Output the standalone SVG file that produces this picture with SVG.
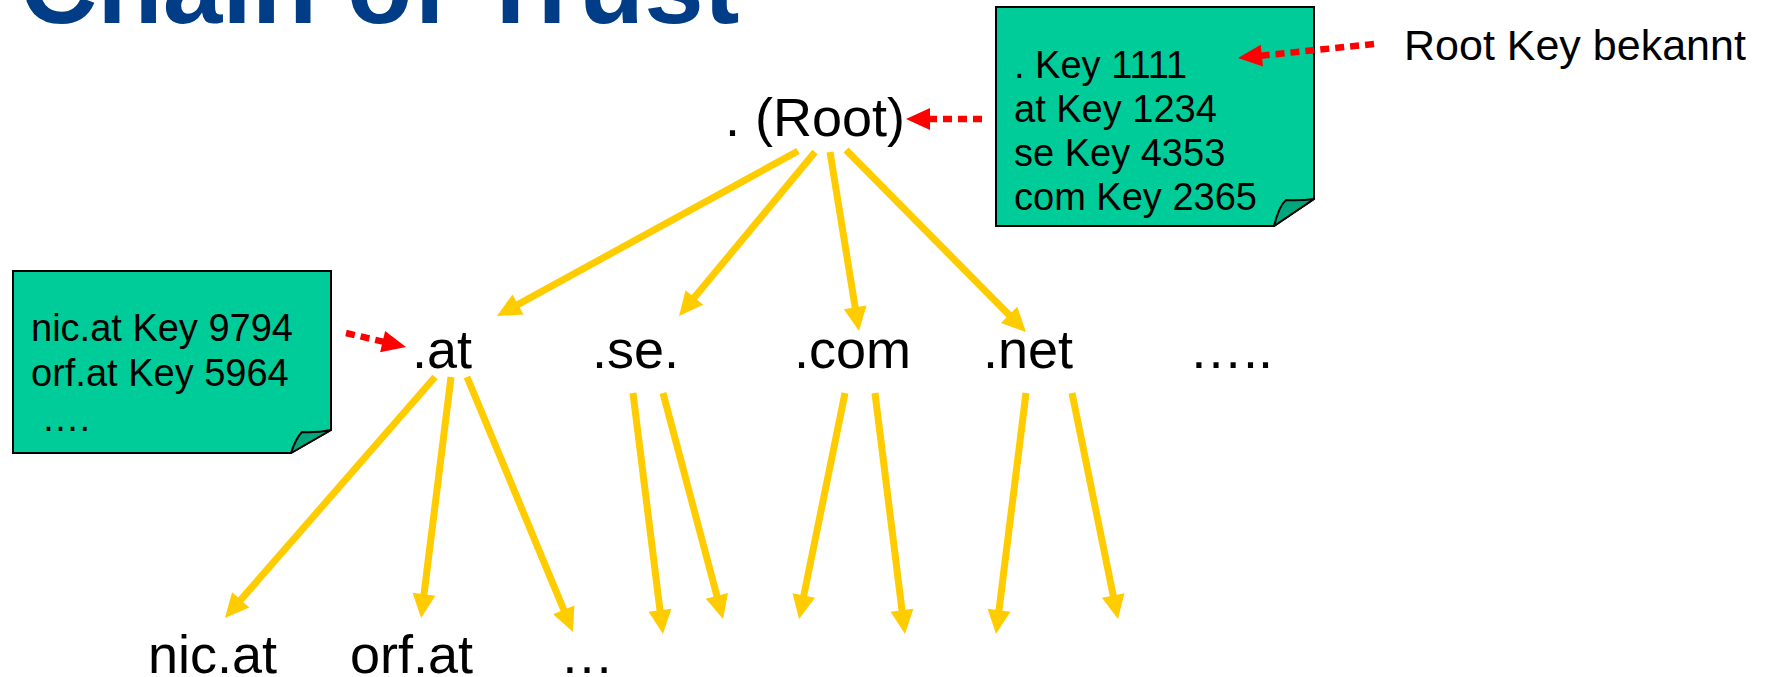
<svg xmlns="http://www.w3.org/2000/svg" width="1767" height="677" viewBox="0 0 1767 677">
<defs>
<style>
text{font-family:"Liberation Sans",Arial,sans-serif;fill:#000}
.lbl{font-size:54px}
.nt{font-size:38px}
.note{fill:#00CC99;stroke:#000;stroke-width:2;stroke-linejoin:miter}
.flap{fill:#00A67C;stroke:#000;stroke-width:2;stroke-linejoin:round}
.y{stroke:#FFCC00;stroke-width:7;fill:none;marker-end:url(#ya)}
.r{stroke:#FF0000;stroke-width:6.5;stroke-dasharray:9 6;fill:none;marker-end:url(#ra)}
</style>
<marker id="ya" markerUnits="userSpaceOnUse" viewBox="0 0 24 23" markerWidth="24" markerHeight="23" refX="4" refY="11.5" orient="auto" overflow="visible"><path d="M0,0 L24,11.5 L0,23 z" fill="#FFCC00"/></marker>
<marker id="ra" markerUnits="userSpaceOnUse" viewBox="0 0 24 22" markerWidth="24" markerHeight="22" refX="4" refY="11" orient="auto" overflow="visible"><path d="M0,0 L24,11 L0,22 z" fill="#FF0000"/></marker>
</defs>
<rect width="1767" height="677" fill="#fff"/>
<g id="title"><text x="20" y="23" font-size="107" font-weight="bold" style="fill:#003D86">Chain of Trust</text></g>

<g id="root"><text class="lbl" x="725" y="136">. (Root)</text></g>
<g id="at"><text class="lbl" x="412" y="368">.at</text></g>
<g id="se"><text class="lbl" x="592" y="368">.se.</text></g>
<g id="com"><text class="lbl" x="794" y="368">.com</text></g>
<g id="net"><text class="lbl" x="983" y="368">.net</text></g>
<g id="more-tld"><text class="lbl" x="1189" y="368">…..</text></g>
<g id="nic-at"><text class="lbl" x="148" y="673">nic.at</text></g>
<g id="orf-at"><text class="lbl" x="350" y="673">orf.at</text></g>
<g id="more-at"><text class="lbl" x="560" y="673">…</text></g>

<g id="root-note">
<path class="note" d="M996,7 H1314 V199 L1274,226 H996 Z"/>
<path class="flap" d="M1274,226 Q1279,206 1286,200 Q1300,201 1314,199 Z"/>
<text class="nt" x="1014" y="78">. Key 1111</text>
<text class="nt" x="1014" y="122">at Key 1234</text>
<text class="nt" x="1014" y="166">se Key 4353</text>
<text class="nt" x="1014" y="210">com Key 2365</text>
</g>

<g id="at-note">
<path class="note" d="M13,271 H331 V430 L291,453 H13 Z"/>
<path class="flap" d="M291,453 Q296,438 302,432 Q316,433 331,430 Z"/>
<text class="nt" x="31" y="341">nic.at Key 9794</text>
<text class="nt" x="31" y="386">orf.at Key 5964</text>
<text class="nt" x="31" y="431" xml:space="preserve"> ….</text>
</g>

<g id="root-key-label"><text x="1404" y="60" font-size="43">Root Key bekannt</text></g>

<g id="connectors">
<line class="y" x1="798" y1="151" x2="514.5" y2="306.4"/>
<line class="y" x1="815" y1="152" x2="691.8" y2="300.6"/>
<line class="y" x1="830" y1="152" x2="855.8" y2="311.3"/>
<line class="y" x1="846" y1="150" x2="1011.9" y2="317.8"/>
<line class="y" x1="435" y1="377" x2="238.1" y2="602.9"/>
<line class="y" x1="451" y1="377" x2="423.5" y2="598.2"/>
<line class="y" x1="467" y1="377" x2="565.3" y2="613.5"/>
<line class="y" x1="633" y1="393" x2="660.5" y2="614.2"/>
<line class="y" x1="663" y1="393" x2="717.9" y2="599.7"/>
<line class="y" x1="845" y1="393" x2="803" y2="599.4"/>
<line class="y" x1="875" y1="393" x2="902.5" y2="614.2"/>
<line class="y" x1="1026" y1="393" x2="998.5" y2="614.2"/>
<line class="y" x1="1072" y1="393" x2="1114" y2="599.4"/>
<line class="r" x1="982" y1="119" x2="926" y2="119"/>
<line class="r" x1="1374" y1="44" x2="1257.9" y2="56"/>
<line class="r" x1="346" y1="333" x2="386.5" y2="342.5"/>
</g>
</svg>
